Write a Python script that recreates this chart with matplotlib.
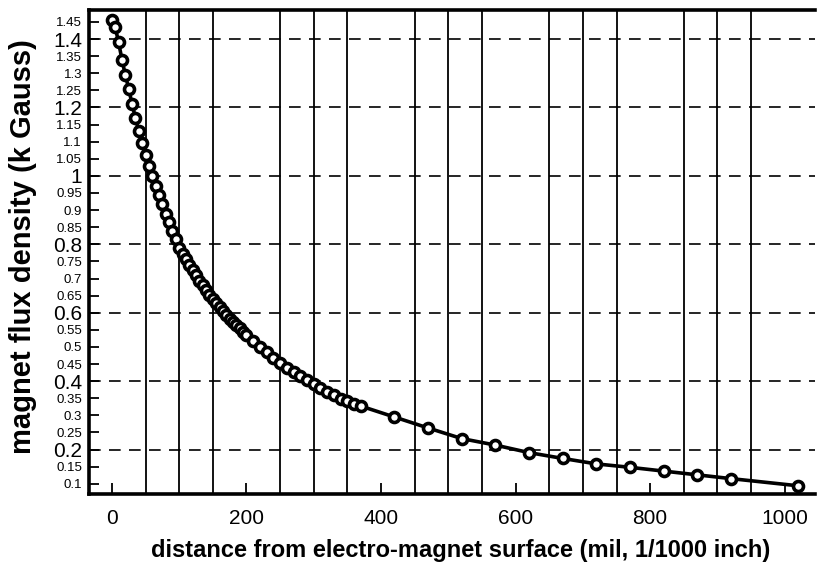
import matplotlib
matplotlib.use("Agg")
import matplotlib.pyplot as plt

plt.rcParams['font.family'] = ['Liberation Sans', 'DejaVu Sans']

# distance from electro-magnet surface (mil)
distance = [0, 5, 10, 15, 20, 25, 30, 35, 40, 45, 50, 55, 60, 65, 70, 75, 80, 85, 90, 95,
            100, 105, 110, 115, 120, 125, 130, 135, 140, 145, 150, 155, 160, 165, 170, 175,
            180, 185, 190, 195, 200,
            210, 220, 230, 240, 250, 260, 270, 280, 290, 300, 310, 320, 330, 340, 350, 360, 370,
            420, 470, 520, 570, 620, 670, 720, 770, 820, 870, 920, 1020]
# magnet flux density (k Gauss)
flux = [1.455, 1.435, 1.39, 1.34, 1.295, 1.255, 1.21, 1.17, 1.13, 1.095, 1.06, 1.03, 1.0,
        0.97, 0.945, 0.918, 0.89, 0.865, 0.84, 0.815,
        0.79, 0.773, 0.756, 0.740, 0.724, 0.709, 0.694, 0.680, 0.666, 0.653, 0.640, 0.628,
        0.616, 0.605, 0.594, 0.583, 0.573, 0.563, 0.554, 0.545, 0.536,
        0.518, 0.500, 0.484, 0.467, 0.452, 0.439, 0.426, 0.414, 0.402, 0.391, 0.379, 0.368,
        0.358, 0.349, 0.341, 0.334, 0.327,
        0.295, 0.263, 0.232, 0.213, 0.191, 0.174, 0.158, 0.148, 0.137, 0.126, 0.115, 0.094]

x_ticks = [0, 200, 400, 600, 800, 1000]
x_grid = [50, 100, 150, 250, 300, 350, 450, 500, 550, 650, 700, 750, 850, 900, 950, 1050]
y_ticks = [0.1, 0.15, 0.2, 0.25, 0.3, 0.35, 0.4, 0.45, 0.5, 0.55, 0.6, 0.65, 0.7, 0.75,
           0.8, 0.85, 0.9, 0.95, 1.0, 1.05, 1.1, 1.15, 1.2, 1.25, 1.3, 1.35, 1.4, 1.45]
y_tick_labels = ['0.1', '0.15', '0.2', '0.25', '0.3', '0.35', '0.4', '0.45', '0.5', '0.55',
                 '0.6', '0.65', '0.7', '0.75', '0.8', '0.85', '0.9', '0.95', '1', '1.05',
                 '1.1', '1.15', '1.2', '1.25', '1.3', '1.35', '1.4', '1.45']
y_major = [0.2, 0.4, 0.6, 0.8, 1.0, 1.2, 1.4]

fig = plt.figure(figsize=(8.17, 5.71), dpi=100)
ax = fig.add_axes([89/817, 1 - 494/571, (815-89)/817, (494-10)/571])

ax.set_xlim(-34, 1045)
ax.set_ylim(0.070, 1.485)

# grid lines
for gx in x_grid:
    ax.axvline(gx, color='black', lw=1.3, zorder=1)
for gy in y_major:
    ax.axhline(gy, color='black', lw=1.2, dashes=(7, 5), zorder=1)

ax.plot(distance, flux, color='black', lw=2.6, marker='o', markersize=7.2,
        markerfacecolor='white', markeredgecolor='black', markeredgewidth=2.6, zorder=3)

ax.set_xticks(x_ticks)
ax.set_xticklabels([str(v) for v in x_ticks], fontsize=15)
ax.set_yticks(y_ticks)
ax.set_yticklabels(y_tick_labels)
for lab, v in zip(ax.get_yticklabels(), y_ticks):
    if any(abs(v - m) < 1e-9 for m in y_major):
        lab.set_fontsize(15)
    else:
        lab.set_fontsize(9.5)

ax.tick_params(axis='x', direction='in', length=8, width=1.3, pad=11, colors='black')
ax.tick_params(axis='y', direction='in', length=7, width=1.3, pad=5, colors='black')

for side in ['left', 'bottom', 'top']:
    ax.spines[side].set_linewidth(2.6)
ax.spines['right'].set_visible(False)

ax.set_xlabel('distance from electro-magnet surface (mil, 1/1000 inch)', fontsize=17,
              fontweight='bold')
ax.xaxis.set_label_coords((461 - 89) / (815 - 89), -(551 - 494) / (494 - 10))
ax.xaxis.label.set_verticalalignment('center')
ax.set_ylabel('magnet flux density (k Gauss)', fontsize=21, fontweight='bold')
ax.yaxis.set_label_coords(-(89 - 23) / (815 - 89), (494 - 247) / (494 - 10))
ax.yaxis.label.set_verticalalignment('center')

fig.savefig('out.png', dpi=100)
